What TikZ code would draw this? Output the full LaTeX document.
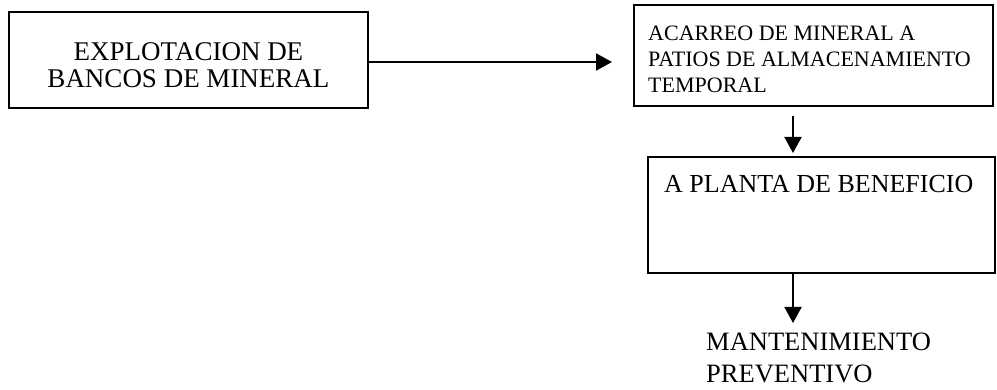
\documentclass[tikz,border=0pt]{standalone}
\usepackage{fontspec}
\setmainfont{Liberation Serif}
\usetikzlibrary{arrows.meta}
\begin{document}
\begin{tikzpicture}[x=1pt,y=-1pt,
  box/.style={draw, line width=2pt, inner sep=0pt},
  lbl/.style={inner sep=0pt, align=left, anchor=north west},
  big/.style={font=\fontsize{26}{27}\selectfont},
  small/.style={font=\fontsize{22}{26}\selectfont},
  conn/.style={line width=2pt, -{Triangle[width=17pt,length=16pt]}}]
\useasboundingbox (0,0) rectangle (997,390);
\node[box, minimum width=359pt, minimum height=96pt] (b1) at (188.5,60) {};
\node[box, minimum width=359pt, minimum height=101pt] (b2) at (813.5,55.5) {};
\node[box, minimum width=347pt, minimum height=116pt] (b3) at (821,215) {};
\node[lbl, font=\fontsize{27}{27}\selectfont, align=center, anchor=north] (t1) at (188.5,42) {EXPLOTACION DE\\BANCOS DE MINERAL};
\node[lbl, small] (t2) at (648,26) {ACARREO DE MINERAL A\\PATIOS DE ALMACENAMIENTO\\TEMPORAL};
\node[lbl, big] (t3) at (664,175) {A PLANTA DE BENEFICIO};
\node[lbl, font=\fontsize{26.5}{32}\selectfont] (t4) at (706,333) {MANTENIMIENTO\\PREVENTIVO};
\coordinate (a1s) at (368,62);
\coordinate (a1e) at (612,62);
\draw[conn] (a1s) -- (a1e);
\coordinate (a2s) at (793,116);
\coordinate (a2e) at (793,153);
\draw[conn] (a2s) -- (a2e);
\coordinate (a3s) at (793,273);
\coordinate (a3e) at (793,323);
\draw[conn] (a3s) -- (a3e);
\end{tikzpicture}
\end{document}
